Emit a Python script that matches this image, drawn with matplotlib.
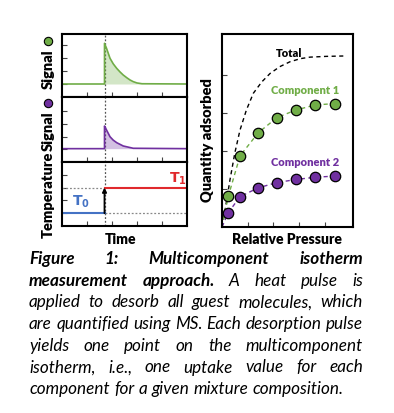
import matplotlib
matplotlib.use("Agg")
import matplotlib.pyplot as plt

plt.rcParams['font.family'] = ['Lato', 'DejaVu Sans']

# -----------------------------
# Data
# -----------------------------
pulse_t = 1.70

sig1_t = [0, 1.70, 1.70, 1.78, 1.92, 2.05, 2.19, 2.32, 2.45, 2.60, 2.72, 2.85, 3.00, 3.20, 5.0]
sig1_y = [1.0, 1.0, 4.13, 3.75, 2.98, 2.55, 2.20, 1.93, 1.69, 1.47, 1.31, 1.18, 1.08, 1.02, 1.0]

sig2_t = [0, 1.70, 1.70, 1.76, 1.92, 2.05, 2.19, 2.45, 2.85, 5.0]
sig2_y = [1.05, 1.05, 2.83, 2.60, 1.99, 1.72, 1.52, 1.26, 1.08, 1.05]

temp_low, temp_high = 1.0, 3.0

p_comp = [0.25, 0.70, 1.41, 2.14, 2.88, 3.63, 4.40]
q_comp1 = [0.82, 1.87, 2.48, 2.88, 3.08, 3.21, 3.25]
q_comp2 = [0.38, 0.80, 1.03, 1.17, 1.25, 1.31, 1.34]

p_total = [0, 0.12, 0.31, 0.50, 0.70, 0.95, 1.22, 1.55, 1.87, 2.25, 2.65, 3.05, 3.42, 4.05, 4.72]
q_total = [0, 0.45, 1.24, 1.95, 2.55, 3.08, 3.52, 3.82, 4.04, 4.22, 4.35, 4.43, 4.47, 4.49, 4.50]

caption_lines = [
    [("Figure", True), ("1:", True), ("Multicomponent", True), ("isotherm", True)],
    [("measurement", True), ("approach.", True), ("A", False), ("heat", False), ("pulse", False), ("is", False)],
    [(w, False) for w in "applied to desorb all guest molecules, which".split()],
    [(w, False) for w in "are quantified using MS. Each desorption pulse".split()],
    [(w, False) for w in "yields one point on the multicomponent".split()],
    [(w, False) for w in "isotherm, i.e., one uptake value for each".split()],
    [(w, False) for w in "component for a given mixture composition.".split()],
]

GREEN = "#70AD47"
PURPLE = "#7030A0"
RED = "#E0292C"
BLUE = "#4472C4"

W, H = 394, 413
fig = plt.figure(figsize=(W / 100, H / 100), dpi=100)


def px_axes(x0, y0, x1, y1):
    return fig.add_axes([x0 / W, 1 - y1 / H, (x1 - x0) / W, (y1 - y0) / H])


def style(ax):
    for s in ax.spines.values():
        s.set_linewidth(1.5)
        s.set_color("black")
    ax.tick_params(direction="in", length=3.5, width=0.8, color="#444444",
                   labelbottom=False, labelleft=False)
    ax.set_xticks([1, 2, 3, 4])
    ax.set_yticks([1, 2, 3, 4])


# -----------------------------
# Left: signals + temperature
# -----------------------------
ax1 = px_axes(62, 34, 187, 97)
ax2 = px_axes(62, 97, 187, 162)
ax3 = px_axes(62, 162, 187, 226)

for ax in (ax1, ax2, ax3):
    style(ax)
    ax.set_xlim(0, 5)
    ax.axvline(pulse_t, color="#555555", ls=(0, (1.5, 1.5)), lw=0.9, zorder=1)

ax1.set_ylim(0, 63 / 13)
ax1.plot(sig1_t, sig1_y, color=GREEN, lw=1.2)
ax1.fill_between(sig1_t, 1.0, sig1_y, color=GREEN, alpha=0.3, lw=0)

ax2.set_ylim(0, 65 / 12.7)
ax2.plot(sig2_t, sig2_y, color=PURPLE, lw=1.2)
ax2.fill_between(sig2_t, 1.05, sig2_y, color=PURPLE, alpha=0.3, lw=0)

ax3.set_ylim(0, 5)
ax3.plot([0, pulse_t], [temp_high, temp_high], color="#888888", ls=(0, (1.5, 1.5)), lw=0.9)
ax3.plot([pulse_t, 5], [temp_low, temp_low], color="#888888", ls=(0, (1.5, 1.5)), lw=0.9)
ax3.plot([0, pulse_t], [temp_low, temp_low], color=BLUE, lw=1.5)
ax3.plot([pulse_t, 5], [temp_high, temp_high], color=RED, lw=1.5)
ax3.annotate("", xy=(pulse_t, temp_high), xytext=(pulse_t, temp_low),
             arrowprops=dict(arrowstyle="-|>", color="black", lw=1.3,
                             mutation_scale=6, shrinkA=0, shrinkB=0))
ax3.text(0.75, 1.9, r"$\mathbf{T_0}$", color=BLUE, fontsize=10, ha="center", va="center")
ax3.text(4.65, 3.65, r"$\mathbf{T_1}$", color=RED, fontsize=10, ha="center", va="center")

lab = dict(fontsize=10.5, fontweight="heavy", rotation=90, ha="center", va="center")
fig.text(48 / W, 1 - 69 / H, "Signal", **lab)
fig.text(48 / W, 1 - 131 / H, "Signal", **lab)
fig.text(48 / W, 1 - 195 / H, "Temperature", **lab)
fig.text(120 / W, 1 - 240 / H, "Time", fontsize=10, fontweight="heavy", ha="center", va="center")
for yy, c in ((41, GREEN), (103, PURPLE)):
    fig.lines.append(plt.Line2D([48 / W], [1 - yy / H], transform=fig.transFigure,
                                marker="o", ms=6, mfc=c, mec="black", mew=0.8, ls="none"))

# -----------------------------
# Right: isotherm
# -----------------------------
ax4 = px_axes(222, 34, 353, 227)
style(ax4)
ax4.set_xlim(0, 131 / 25.7)
ax4.set_ylim(0, 193 / 38)

ax4.plot(p_total, q_total, color="black", ls=(0, (3, 2.5)), lw=1.0)
ax4.plot([0] + p_comp, [0] + q_comp1, color=GREEN, ls=(0, (3, 2.5)), lw=1.0)
ax4.plot([0] + p_comp, [0] + q_comp2, color=PURPLE, ls=(0, (3, 2.5)), lw=1.0)
ax4.plot(p_comp, q_comp1, "o", ms=7.5, mfc=GREEN, mec="black", mew=0.9, clip_on=False)
ax4.plot(p_comp, q_comp2, "o", ms=7.5, mfc=PURPLE, mec="black", mew=0.9, clip_on=False)

ax4.text(2.62, 4.56, "Total", fontsize=8, fontweight="heavy", ha="center", va="center")
ax4.text(3.23, 3.59, "Component 1", fontsize=8, fontweight="heavy", color=GREEN, ha="center", va="center")
ax4.text(3.23, 1.70, "Component 2", fontsize=8, fontweight="heavy", color=PURPLE, ha="center", va="center")

fig.text(208 / W, 1 - 140 / H, "Quantity adsorbed", **lab)
fig.text(287 / W, 1 - 240 / H, "Relative Pressure", fontsize=10, fontweight="heavy", ha="center", va="center")

# -----------------------------
# Caption (justified)
# -----------------------------
left, right = 29, 363
base0, step = 264, 21.7
cap_size = 12.3
renderer = fig.canvas.get_renderer()

for i, words in enumerate(caption_lines):
    y = 1 - (base0 + i * step) / H
    texts = []
    for w, bold in words:
        t = fig.text(0, y, w, fontsize=cap_size, style="italic",
                     fontweight="bold" if bold else "normal", va="baseline", ha="left")
        texts.append(t)
    widths = [t.get_window_extent(renderer).width for t in texts]
    if i < len(caption_lines) - 1 and len(texts) > 1:
        gap = (right - left - sum(widths)) / (len(texts) - 1)
    else:
        gap = cap_size * 100 / 72 * 0.25
    x = left
    for t, w in zip(texts, widths):
        t.set_x(x / W)
        x += w + gap

fig.savefig("out.png", dpi=100)
